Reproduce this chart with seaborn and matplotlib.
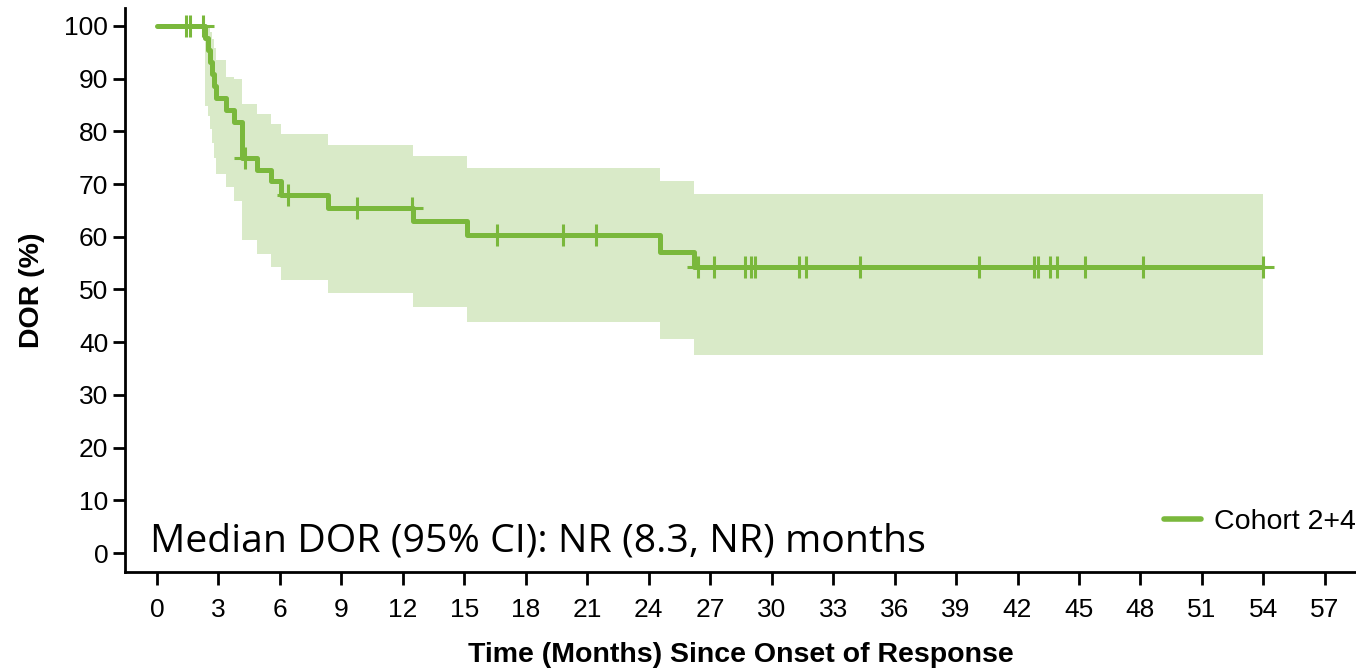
import numpy as np
import pandas as pd
import matplotlib
matplotlib.use("Agg")
import matplotlib.pyplot as plt
import seaborn as sns

# --- KM estimate (months, %) ---
event_times = [0, 2.35, 2.5, 2.6, 2.7, 2.8, 2.9, 3.39, 3.75, 4.13, 4.15, 4.17,
               4.86, 5.56, 6.05, 8.36, 12.5, 15.11, 24.55, 26.2, 54.0]
survival = [100, 97.7, 95.5, 93.2, 90.9, 88.6, 86.4, 84.1, 81.8, 79.5, 77.3, 75.0,
            72.7, 70.5, 68.0, 65.5, 62.9, 60.3, 57.2, 54.3, 54.3]
ci_lower = [100, 84.8, 82.9, 80.5, 77.8, 75.0, 72.0, 69.5, 66.7, 64.2, 61.8, 59.4,
            56.7, 54.3, 51.8, 49.3, 46.6, 43.8, 40.6, 37.6, 37.6]
ci_upper = [100, 100, 99.6, 98.8, 97.6, 95.8, 93.5, 90.3, 90.0, 88.0, 86.6, 85.2,
            83.3, 81.4, 79.5, 77.4, 75.3, 73.1, 70.6, 68.1, 68.1]

# censored observations (months)
censor_times = [1.42, 1.62, 2.23, 4.3, 6.4, 9.76, 12.45, 16.6, 19.8, 21.45,
                26.4, 27.2, 28.7, 29.0, 29.2, 31.35, 31.7, 34.3, 40.1, 42.8,
                43.0, 43.6, 43.95, 45.3, 48.1, 54.0]

x_ticks = list(range(0, 58, 3))
y_ticks = list(range(0, 101, 10))

cohort_label = "Cohort 2+4"
median_text = "Median DOR (95% CI): NR (8.3, NR) months"

LINE = "#7ab83c"
BAND = "#d9eac8"

sns.set_style("ticks")
plt.rcParams["font.family"] = ["Liberation Sans", "DejaVu Sans"]
plt.rcParams["text.color"] = "black"
plt.rcParams["axes.labelcolor"] = "black"
plt.rcParams["xtick.color"] = "black"
plt.rcParams["ytick.color"] = "black"
plt.rcParams["axes.edgecolor"] = "black"

km = pd.DataFrame({"time": event_times, "surv": survival,
                   "lo": ci_lower, "hi": ci_upper})
idx = np.searchsorted(event_times, censor_times, side="right") - 1
cens = pd.DataFrame({"time": censor_times, "surv": np.array(survival)[idx]})

fig = plt.figure(figsize=(13.56, 6.69), dpi=100)
ax = fig.add_axes([125 / 1356, 97 / 669, 1231 / 1356, 564 / 669])

ax.fill_between(km["time"], km["lo"], km["hi"], step="post",
                color=BAND, linewidth=0, zorder=1)
sns.lineplot(data=km, x="time", y="surv", drawstyle="steps-post",
             color=LINE, linewidth=3.6, label=cohort_label, ax=ax, zorder=3)
sns.scatterplot(data=cens, x="time", y="surv", marker="+", s=260,
                color=LINE, linewidth=2.2, ax=ax, zorder=4, legend=False)

ax.set_xlim(-1.56, 58.52)
ax.set_ylim(-3.6, 103.4)
ax.set_xticks(x_ticks)
ax.set_yticks(y_ticks)
ax.tick_params(axis="both", labelsize=19, width=2, length=9, color="black",
               labelcolor="black")
ax.tick_params(axis="x", pad=10)
ax.tick_params(axis="y", pad=3)
for s in ["top", "right"]:
    ax.spines[s].set_visible(False)
for s in ["left", "bottom"]:
    ax.spines[s].set_linewidth(2)

ax.set_xlabel("Time (Months) Since Onset of Response", fontsize=20.5,
              fontweight="bold", labelpad=14)
ax.set_ylabel("DOR (%)", fontsize=20.5, fontweight="bold", labelpad=14)

ax.text(-0.34, 0.3, median_text, fontsize=28.3, family=["Open Sans", "DejaVu Sans"],
        va="baseline", ha="left")

leg = ax.legend(loc="center right", bbox_to_anchor=(1.0, 0.0887), frameon=False,
                fontsize=20.5, handlelength=1.3, handletextpad=0.45,
                borderaxespad=0, borderpad=0)
for h in leg.get_lines():
    h.set_linewidth(4)

plt.savefig("out.png", dpi=100)
